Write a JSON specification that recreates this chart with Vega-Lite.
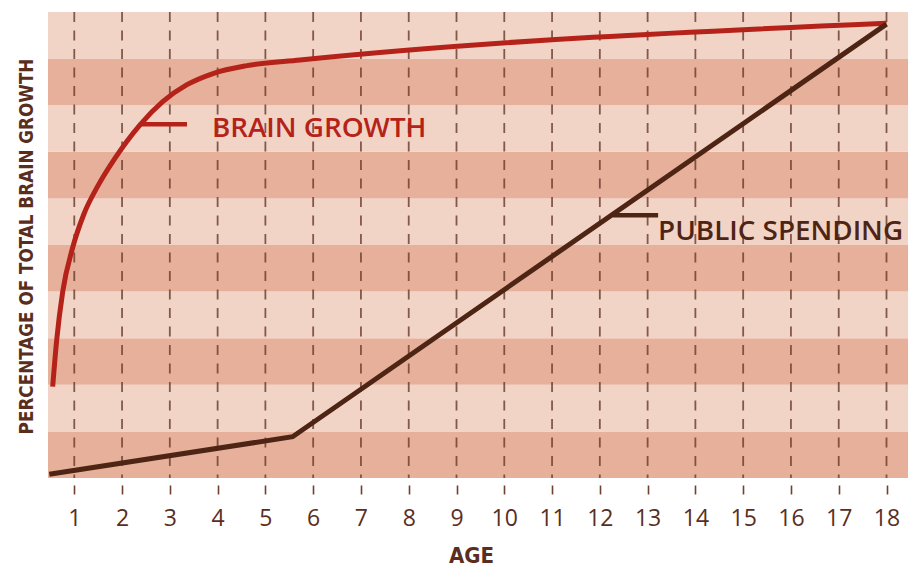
{
  "$schema": "https://vega.github.io/schema/vega-lite/v6.json",
  "width": 860,
  "height": 466,
  "autosize": {"type": "none"},
  "padding": {"left": 48, "top": 12, "right": 0, "bottom": 89},
  "background": "white",
  "config": {"view": {"stroke": null}},
  "datasets": {
    "bands": [
      {"lo": 0, "hi": 10, "shade": "dark"},
      {"lo": 10, "hi": 20, "shade": "light"},
      {"lo": 20, "hi": 30, "shade": "dark"},
      {"lo": 30, "hi": 40, "shade": "light"},
      {"lo": 40, "hi": 50, "shade": "dark"},
      {"lo": 50, "hi": 60, "shade": "light"},
      {"lo": 60, "hi": 70, "shade": "dark"},
      {"lo": 70, "hi": 80, "shade": "light"},
      {"lo": 80, "hi": 90, "shade": "dark"},
      {"lo": 90, "hi": 100, "shade": "light"}
    ],
    "ages": [
      {"age": 1}, {"age": 2}, {"age": 3}, {"age": 4}, {"age": 5}, {"age": 6},
      {"age": 7}, {"age": 8}, {"age": 9}, {"age": 10}, {"age": 11}, {"age": 12},
      {"age": 13}, {"age": 14}, {"age": 15}, {"age": 16}, {"age": 17}, {"age": 18}
    ],
    "curves": [
      {"series": "BRAIN GROWTH", "age": 0.548, "value": 19.6},
      {"series": "BRAIN GROWTH", "age": 0.632, "value": 29.6},
      {"series": "BRAIN GROWTH", "age": 0.758, "value": 40.0},
      {"series": "BRAIN GROWTH", "age": 0.96, "value": 49.2},
      {"series": "BRAIN GROWTH", "age": 1.2, "value": 56.6},
      {"series": "BRAIN GROWTH", "age": 1.5, "value": 62.8},
      {"series": "BRAIN GROWTH", "age": 1.85, "value": 68.6},
      {"series": "BRAIN GROWTH", "age": 2.376, "value": 75.8},
      {"series": "BRAIN GROWTH", "age": 2.857, "value": 80.8},
      {"series": "BRAIN GROWTH", "age": 3.359, "value": 84.4},
      {"series": "BRAIN GROWTH", "age": 3.903, "value": 86.8},
      {"series": "BRAIN GROWTH", "age": 4.615, "value": 88.5},
      {"series": "BRAIN GROWTH", "age": 5.724, "value": 89.7},
      {"series": "BRAIN GROWTH", "age": 18.0, "value": 97.6},
      {"series": "PUBLIC SPENDING", "age": 0.477, "value": 0.8},
      {"series": "PUBLIC SPENDING", "age": 5.57, "value": 8.86},
      {"series": "PUBLIC SPENDING", "age": 18.0, "value": 97.4}
    ],
    "labels": [
      {"series": "BRAIN GROWTH", "age": 3.88, "value": 73.2, "age1": 2.376, "age2": 3.359, "lineValue": 75.9},
      {"series": "PUBLIC SPENDING", "age": 13.22, "value": 51.1, "age1": 12.27, "age2": 13.22, "lineValue": 56.4}
    ]
  },
  "layer": [
    {
      "data": {"name": "bands"},
      "mark": {"type": "rect"},
      "encoding": {
        "x": {"datum": 0.45, "type": "quantitative", "scale": {"domain": [0.45, 18.45], "nice": false, "zero": false}},
        "x2": {"datum": 18.45},
        "y": {"field": "lo", "type": "quantitative", "scale": {"domain": [0, 100], "nice": false}},
        "y2": {"field": "hi"},
        "fill": {"field": "shade", "type": "nominal", "scale": {"domain": ["light", "dark"], "range": ["#f2d4c6", "#e6b09b"]}, "legend": null}
      }
    },
    {
      "data": {"name": "ages"},
      "mark": {"type": "rule", "strokeDash": [10, 8.5], "strokeWidth": 1.8, "color": "#6e4232", "opacity": 0.85},
      "encoding": {
        "x": {"field": "age", "type": "quantitative"},
        "y": {"datum": 100},
        "y2": {"datum": 0}
      }
    },
    {
      "data": {"name": "curves"},
      "transform": [{"filter": "datum.series === 'BRAIN GROWTH'"}],
      "mark": {"type": "line", "interpolate": "monotone", "strokeWidth": 5, "strokeCap": "butt"},
      "encoding": {
        "x": {"field": "age", "type": "quantitative"},
        "y": {"field": "value", "type": "quantitative"},
        "stroke": {"field": "series", "type": "nominal", "scale": {"domain": ["BRAIN GROWTH", "PUBLIC SPENDING"], "range": ["#b5221a", "#4e2414"]}, "legend": null}
      }
    },
    {
      "data": {"name": "curves"},
      "transform": [{"filter": "datum.series === 'PUBLIC SPENDING'"}],
      "mark": {"type": "line", "interpolate": "linear", "strokeWidth": 5, "strokeCap": "butt"},
      "encoding": {
        "x": {"field": "age", "type": "quantitative"},
        "y": {"field": "value", "type": "quantitative"},
        "stroke": {"field": "series", "type": "nominal", "legend": null}
      }
    },
    {
      "data": {"name": "labels"},
      "mark": {"type": "rule", "strokeWidth": 4.5},
      "encoding": {
        "x": {"field": "age1", "type": "quantitative"},
        "x2": {"field": "age2"},
        "y": {"field": "lineValue", "type": "quantitative"},
        "stroke": {"field": "series", "type": "nominal", "legend": null}
      }
    },
    {
      "data": {"name": "labels"},
      "mark": {"type": "text", "align": "left", "baseline": "alphabetic", "font": "Open Sans", "fontSize": 27.8, "fontWeight": 600},
      "encoding": {
        "x": {"field": "age", "type": "quantitative"},
        "y": {"field": "value", "type": "quantitative"},
        "text": {"field": "series"},
        "color": {"field": "series", "type": "nominal", "scale": {"domain": ["BRAIN GROWTH", "PUBLIC SPENDING"], "range": ["#b5221a", "#4e2414"]}, "legend": null}
      }
    },
    {
      "data": {"name": "ages"},
      "mark": {"type": "point", "opacity": 0},
      "encoding": {
        "x": {
          "field": "age", "type": "quantitative",
          "axis": {
            "values": [1,2,3,4,5,6,7,8,9,10,11,12,13,14,15,16,17,18],
            "format": "d",
            "offset": 7,
            "domain": false,
            "grid": false,
            "ticks": true,
            "tickSize": 9,
            "tickWidth": 1.6,
            "tickColor": "#6e4232",
            "labelFont": "Open Sans",
            "labelFontSize": 23,
            "labelColor": "#5a2e1e",
            "labelPadding": 13,
            "title": "AGE",
            "titleFont": "Liberation Sans Narrow, DejaVu Sans Condensed, sans-serif",
            "titleFontSize": 22,
            "titleFontWeight": "bold",
            "titleColor": "#5a2e1e",
            "titleBaseline": "alphabetic",
            "titleAnchor": "start",
            "titleAlign": "center",
            "titleX": 423,
            "titleY": 77
          }
        },
        "y": {
          "datum": 50, "type": "quantitative",
          "axis": {
            "labels": false,
            "ticks": false,
            "domain": false,
            "grid": false,
            "title": "PERCENTAGE OF TOTAL BRAIN GROWTH",
            "titleFont": "Liberation Sans Narrow, DejaVu Sans Condensed, sans-serif",
            "titleFontSize": 18.7,
            "titleFontWeight": "bold",
            "titleColor": "#5a2e1e",
            "titleAngle": 270,
            "titleAlign": "center",
            "titleBaseline": "alphabetic",
            "titleX": -16,
            "titleY": 234
          }
        }
      }
    }
  ]
}
